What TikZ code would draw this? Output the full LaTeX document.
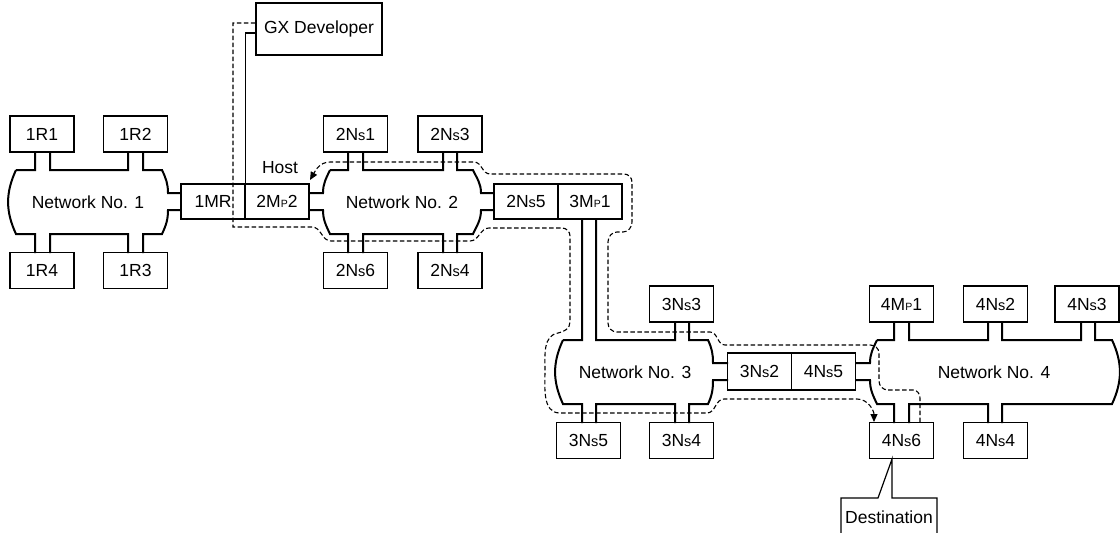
\documentclass[tikz,border=0pt]{standalone}
\usepackage{fontspec}
\setmainfont{Liberation Sans}
\usetikzlibrary{arrows.meta}
\newcommand{\nsub}{N{\fontsize{14.5pt}{14.5pt}\selectfont s}}
\newcommand{\mpsub}{M{\fontsize{10.5pt}{10.5pt}\selectfont P}}

\begin{document}
\begin{tikzpicture}[x=1pt,y=-1pt,>={Triangle[length=8pt,width=7pt]},
  every node/.style={font=\fontsize{17.5pt}{20pt}\selectfont},
  unit/.style={draw,line width=1.2pt,minimum width=64pt,minimum height=36pt,inner sep=0pt},
  net/.style={line width=2pt},
  route/.style={line width=1.1pt,dash pattern=on 4.5pt off 2.5pt}]
  \useasboundingbox (0,0) rectangle (1120,533);

  % stations
  \node[unit] (r11) at (42,134) {1R1};
  \node[unit] (r12) at (135.5,134) {1R2};
  \node[unit] (r14) at (42,270.5) {1R4};
  \node[unit] (r13) at (135.5,270.5) {1R3};
  \node[unit,minimum height=35pt] (mr1) at (213,201.5) {1MR};
  \node[unit,minimum height=35pt] (mp22) at (277,201.5) {2\mpsub2};
  \node[unit] (ns21) at (355.5,134) {2\nsub1};
  \node[unit] (ns23) at (450,134) {2\nsub3};
  \node[unit] (ns26) at (355.5,270.5) {2\nsub6};
  \node[unit] (ns24) at (450,270.5) {2\nsub4};
  \node[unit,minimum height=35pt] (ns25) at (526,201.5) {2\nsub5};
  \node[unit,minimum height=35pt] (mp31) at (590,201.5) {3\mpsub1};
  \node[unit] (ns33) at (681.5,304) {3\nsub3};
  \node[unit] (ns35) at (588.5,440.5) {3\nsub5};
  \node[unit] (ns34) at (681.5,440.5) {3\nsub4};
  \node[unit,minimum height=37pt] (ns32) at (759.5,371.5) {3\nsub2};
  \node[unit,minimum height=37pt] (ns45) at (823.5,371.5) {4\nsub5};
  \node[unit] (mp41) at (901.5,304) {4\mpsub1};
  \node[unit] (ns42) at (995.5,304) {4\nsub2};
  \node[unit] (ns43) at (1087,304) {4\nsub3};
  \node[unit] (ns46) at (901.5,440.5) {4\nsub6};
  \node[unit] (ns44) at (995.5,440.5) {4\nsub4};
  \node[unit,minimum width=126pt,minimum height=52pt] (gx) at (319,29) {GX Developer};

  % networks
  \node (net1) at (88,202) {Network No. 1};
  \node (net2) at (402,202) {Network No. 2};
  \node (net3) at (635,372) {Network No. 3};
  \node (net4) at (994,372) {Network No. 4};
  \draw[net] (16,170) -| (35,152) (50,152) |- (128,170) -- (128,152)
    (143,152) |- (162,170) to[out=-65,in=90] (168,193) -- (181,193)
    (181,210) -- (168,210) to[out=-90,in=65] (162,234) -| (143,253)
    (128,253) |- (50,234) -- (50,253)
    (35,253) |- (16,234) to[out=115,in=-115] (16,170);
  \draw[net] (330,170) -| (348,152) (363,152) |- (443,170) -- (443,152)
    (457,152) |- (473,170) to[out=-65,in=90] (481,193) -- (494,193)
    (494,210) -- (481,210) to[out=-90,in=65] (473,234) -| (457,253)
    (443,253) |- (363,234) -- (363,253)
    (348,253) |- (330,234) to[out=115,in=-90] (323,210) -- (309,210)
    (309,193) -- (323,193) to[out=90,in=-115] (330,170);
  \draw[net] (563,340) -| (582,219) (596,219) |- (675,340) -- (675,322)
    (689,322) |- (708,340) to[out=-65,in=90] (713,363) -- (728,363)
    (728,380) -- (713,380) to[out=-90,in=65] (708,404) -| (689,423)
    (675,423) |- (596,404) -- (596,423)
    (582,423) |- (563,404) to[out=115,in=-115] (563,340);
  \draw[net] (877,340) -| (894,322) (909,322) |- (988,340) -- (988,322)
    (1002,322) |- (1081,340) -- (1081,322)
    (1095,322) |- (1112,340) to[out=-65,in=65] (1112,404) -| (1002,423)
    (988,423) |- (909,404) -- (909,423)
    (894,423) |- (877,404) to[out=115,in=-90] (870,380) -- (856,380)
    (856,363) -- (870,363) to[out=90,in=-115] (877,340);

  % peripheral
  \draw[line width=1.2pt] ([yshift=-4pt]gx.west) -| (mr1.north east);
  \node (host) at (280,168) {Host};
  \node (dest) at (889,517) {Destination};
  \draw[line width=1.2pt] (841,536) |- (878,498) -- ([xshift=-9.5pt]ns46.south)
    -- (892,498) -| (937,536);

  % request and response routes
  \draw[route,->] ([yshift=6pt]gx.west) -| (233,227) -- (312,227)
    to[out=0,in=180] (331,241) -- (470,241) to[out=0,in=180] (489,228)
    -- (562,228) to[out=0,in=90] (570,236) -- (570,322)
    to[out=-90,in=10] (558,333) to[out=190,in=90] (545,370)
    to[out=-90,in=180] (560,413) -- (707,413) to[out=0,in=180] (724,399)
    -- (857,399) to[out=0,in=90] (874,422);
  \draw[route,->] (920,422) -- (920,398) to[out=90,in=0] (913,390)
    -- (888,390) to[out=180,in=-90] (879,381) -- (879,353)
    to[out=90,in=0] (870,345) -- (725,345) to[out=180,in=0] (710,332)
    -- (617,332) to[out=180,in=-90] (608,323) -- (608,242)
    to[out=90,in=180] (617,232) -- (623,232) to[out=0,in=-90] (632,222)
    -- (632,182) to[out=90,in=0] (624,174) -- (490,174)
    to[out=180,in=0] (474,162) -- (330,162) to[out=180,in=60] (310,180);
\end{tikzpicture}
\end{document}
